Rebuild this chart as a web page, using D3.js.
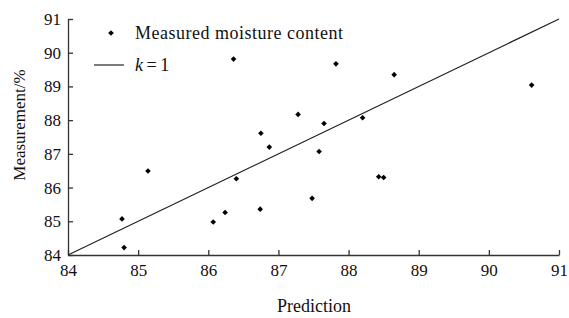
<!DOCTYPE html>
<html>
<head>
<meta charset="utf-8">
<script src="https://cdn.jsdelivr.net/npm/d3@7"></script>
<style>
  body { margin: 0; background: #fff; }
  .axis path, .axis line { stroke: #333; stroke-width: 1.3; }
</style>
</head>
<body>
<script>
// predicted vs measured moisture content (%)
var predicted = [86.36, 86.75, 86.87, 87.28, 87.82, 88.65, 90.61, 87.65, 88.20, 87.58,
                 85.14, 84.77, 84.80, 86.07, 86.24, 86.40, 86.74, 88.43, 88.50, 87.48];
var measured  = [89.81, 87.61, 87.20, 88.17, 89.67, 89.35, 89.04, 87.90, 88.07, 87.07,
                 86.49, 85.07, 84.22, 84.98, 85.26, 86.26, 85.36, 86.32, 86.30, 85.68];
var ticks = [84, 85, 86, 87, 88, 89, 90, 91];
var refLine = [84, 91];   // k = 1

var width = 569, height = 318;
var margin = {top: 19, right: 10, bottom: 63, left: 68};
var serif = "'Liberation Serif', 'Times New Roman', serif";

var svg = d3.select("body").append("svg")
  .attr("width", width)
  .attr("height", height)
  .style("font-family", serif);

var x = d3.scaleLinear().domain([84, 91]).range([margin.left, width - margin.right]);
var y = d3.scaleLinear().domain([84, 91]).range([height - margin.bottom, margin.top]);

// axes, ticks pointing inward
svg.append("g")
  .attr("class", "axis")
  .attr("transform", "translate(0," + y(84) + ")")
  .call(d3.axisBottom(x).tickValues(ticks).tickFormat(d3.format("d"))
    .tickSizeInner(-5).tickSizeOuter(0).tickPadding(9));

svg.append("g")
  .attr("class", "axis")
  .attr("transform", "translate(" + x(84) + ",0)")
  .call(d3.axisLeft(y).tickValues(ticks).tickFormat(d3.format("d"))
    .tickSizeInner(-5).tickSizeOuter(0).tickPadding(7));

svg.selectAll(".axis").attr("font-family", null).attr("font-size", null);
svg.selectAll(".axis text").style("font-size", "17px").attr("fill", "#111");

// k = 1 line
svg.append("line")
  .attr("x1", x(refLine[0])).attr("y1", y(refLine[0]))
  .attr("x2", x(refLine[1])).attr("y2", y(refLine[1]))
  .attr("stroke", "#222").attr("stroke-width", 1.2);

// points
var diamond = d3.symbol().type(d3.symbolDiamond2).size(20);
svg.selectAll(".pt")
  .data(predicted.map(function(d, i){ return [d, measured[i]]; }))
  .enter().append("path")
  .attr("class", "pt")
  .attr("d", diamond)
  .attr("transform", function(d){ return "translate(" + x(d[0]) + "," + y(d[1]) + ")"; })
  .attr("fill", "#000");

// legend
svg.append("path").attr("d", diamond).attr("transform", "translate(111,33)").attr("fill", "#000");
svg.append("text").attr("x", 135).attr("y", 39)
  .style("font-size", "18px").style("letter-spacing", "0.5px")
  .attr("fill", "#111")
  .text("Measured moisture content");
svg.append("line").attr("x1", 94).attr("x2", 124).attr("y1", 65).attr("y2", 65)
  .attr("stroke", "#222").attr("stroke-width", 1.2);
var k = svg.append("text").attr("x", 135).attr("y", 71)
  .style("font-size", "18px").attr("fill", "#111");
k.append("tspan").style("font-style", "italic").text("k");
k.append("tspan").text("\u2009=\u20091");

// axis titles
svg.append("text")
  .attr("x", 314).attr("y", 312)
  .attr("text-anchor", "middle")
  .style("font-size", "18px").attr("fill", "#111")
  .text("Prediction");

svg.append("text")
  .attr("transform", "translate(25,125) rotate(-90)")
  .attr("text-anchor", "middle")
  .style("font-size", "17px").attr("fill", "#111")
  .text("Measurement/%");
</script>
</body>
</html>
